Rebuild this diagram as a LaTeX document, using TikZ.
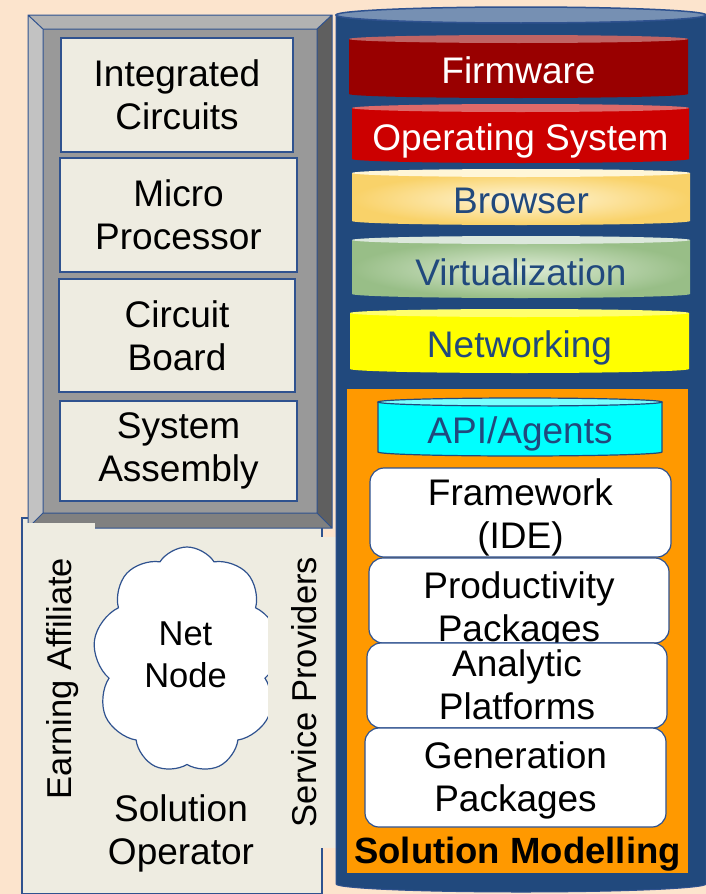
\documentclass[tikz,border=0pt]{standalone}
\usepackage{fontspec}
\setmainfont{Liberation Sans}
\usetikzlibrary{shapes.symbols}
\definecolor{bg}{RGB}{252,228,205}
\definecolor{navy}{RGB}{33,73,125}
\definecolor{edgeblue}{RGB}{47,82,143}
\definecolor{beige}{RGB}{238,236,225}
\definecolor{cyltop}{RGB}{118,144,179}
\definecolor{fwred}{RGB}{153,0,0}
\definecolor{fwtop}{RGB}{192,100,100}
\definecolor{osred}{RGB}{204,0,0}
\definecolor{ostop}{RGB}{222,105,105}
\definecolor{brin}{RGB}{255,246,218}
\definecolor{brout}{RGB}{249,210,105}
\definecolor{brtop}{RGB}{255,246,215}
\definecolor{vin}{RGB}{222,236,214}
\definecolor{vout}{RGB}{152,190,135}
\definecolor{vtop}{RGB}{220,232,220}
\definecolor{nwyellow}{RGB}{255,255,0}
\definecolor{nwtop}{RGB}{255,255,110}
\definecolor{apicyan}{RGB}{0,255,255}
\definecolor{apitop}{RGB}{120,255,255}
\definecolor{orangep}{RGB}{255,153,0}
\definecolor{bevtop}{RGB}{178,178,178}
\definecolor{bevleft}{RGB}{194,194,194}
\definecolor{bevright}{RGB}{95,95,95}
\definecolor{bevbot}{RGB}{128,128,128}
\definecolor{bevface}{RGB}{153,153,153}
\newcommand\diskshape[7]{%
  \pgfmathsetmacro\dcx{(#1+#2)/2}\pgfmathsetmacro\drx{(#2-#1)/2}%
  \shade[inner color=#5, outer color=#6] (#1,#3) -- (#2,#3) -- (#2,#4)
     arc[start angle=0,end angle=180,x radius=\drx,y radius=4] -- cycle;
  \fill[#7] (\dcx,#3) ellipse[x radius=\drx, y radius=4];
}
\begin{document}
\begin{tikzpicture}[x=1pt,y=-1pt,
  every node/.style={inner sep=0pt, align=center, font=\fontsize{37}{43}\selectfont},
  hwbox/.style={draw=edgeblue, fill=beige, line width=1.2pt},
  swbox/.style={draw=edgeblue, fill=white, line width=1.2pt, rounded corners=14pt},
  bevline/.style={draw=edgeblue, line width=1pt},
  smallfont/.style={font=\fontsize{34.5}{42}\selectfont}]
\useasboundingbox (0,0) rectangle (706,894);
\fill[bg] (0,0) rectangle (706,894);

% bottom-left box
\node[hwbox, minimum width=300pt, minimum height=376pt] (opbox) at (172,706) {};

% bevel frame
\fill[bevface] (43,29) rectangle (317,513);
\fill[bevtop] (28,15) -- (332,15) -- (317,29) -- (43,29) -- cycle;
\fill[bevleft] (28,15) -- (43,29) -- (43,513) -- (28,528) -- cycle;
\fill[bevright] (332,15) -- (332,528) -- (317,513) -- (317,29) -- cycle;
\fill[bevbot] (28,528) -- (43,513) -- (317,513) -- (332,528) -- cycle;
\draw[bevline] (28,15) rectangle (332,528) (43,29) rectangle (317,513)
  (28,15) -- (43,29) (332,15) -- (317,29) (28,528) -- (43,513) (332,528) -- (317,513);

\node[hwbox, minimum width=232pt, minimum height=114pt] (ic) at (177,95) {Integrated\\Circuits};
\node[hwbox, minimum width=237pt, minimum height=114pt] (mp) at (178.5,215) {Micro\\Processor};
\node[hwbox, minimum width=236pt, minimum height=113pt] (cb) at (177,335.5) {Circuit\\Board};
\node[hwbox, minimum width=237pt, minimum height=100pt] (sa) at (178.5,451) {System\\Assembly};

% patches and cloud
\fill[beige] (23,523) rectangle (95,620);
\node[cloud, cloud puffs=9, cloud puff arc=115, cloud ignores aspect, draw=edgeblue, fill=white, line width=1.2pt,
  minimum width=188pt, minimum height=226pt] (cloud) at (187,660) {};
\fill[beige] (268,537) rectangle (336,848);

\node[smallfont] (netnode) at (185.5,654.5) {Net\\Node};
\node[smallfont, rotate=90] (earn) at (63,678.5) {Earning Affiliate};
\node[smallfont, rotate=90] (serv) at (304.5,692) {Service Providers};
\node (solop) at (181,833) {Solution\\Operator};

% main cylinder
\fill[navy, draw=edgeblue, line width=1pt] (336,15) -- (706,15) -- (706,884)
   arc[start angle=0,end angle=180,x radius=185,y radius=8] -- cycle;
\fill[cyltop, draw=edgeblue, line width=1.5pt] (521,15) ellipse[x radius=185, y radius=8];

\diskshape{349}{688}{39}{94}{fwred}{fwred}{fwtop}
\node[text=white] (fw) at (518.5,70) {Firmware};
\diskshape{352}{689}{108}{159}{osred}{osred}{ostop}
\node[text=white] (os) at (520.5,140.5) {Operating System};
\diskshape{352}{690}{173}{221}{brin}{brout}{brtop}
\node[text=navy] (br) at (521,201) {Browser};
\diskshape{352}{690}{240}{294}{vin}{vout}{vtop}
\node[text=navy] (vz) at (521,272) {Virtualization};
\diskshape{350}{689}{313}{369}{nwyellow}{nwyellow}{nwtop}
\node[text=navy] (nw) at (519.5,348) {Networking};

% orange panel
\node[fill=orangep, minimum width=341pt, minimum height=484pt] (panel) at (517.5,631) {};

% API cylinder
\draw[navy, line width=1.2pt, fill=apicyan] (378,402) -- (378,452)
   arc[start angle=180,end angle=0,x radius=142,y radius=4] -- (662,402);
\fill[apitop, draw=navy, line width=1.2pt] (520,402) ellipse[x radius=142, y radius=4];
\node[text=navy] (api) at (520,434) {API/Agents};

% software boxes
\node[swbox, minimum width=301pt, minimum height=89pt] (fwk) at (520.5,512.5) {};
\node (fwkt) at (520.5,517) {Framework\\(IDE)};
\node[swbox, minimum width=300pt, minimum height=85pt] (prod) at (519,600.5) {};
\node (prodt) at (519,610) {Productivity\\Packages};
\node[swbox, minimum width=300pt, minimum height=85pt] (anal) at (517,685.5) {};
\node (analt) at (517,684.5) {Analytic\\Platforms};
\node[swbox, minimum width=301pt, minimum height=99pt] (gen) at (515.5,777.5) {};
\node (gent) at (515.5,780) {Generation\\Packages};

\node[font=\bfseries\fontsize{36.5}{43}\selectfont] (solmod) at (517.5,854) {Solution Modelling};
\end{tikzpicture}
\end{document}
